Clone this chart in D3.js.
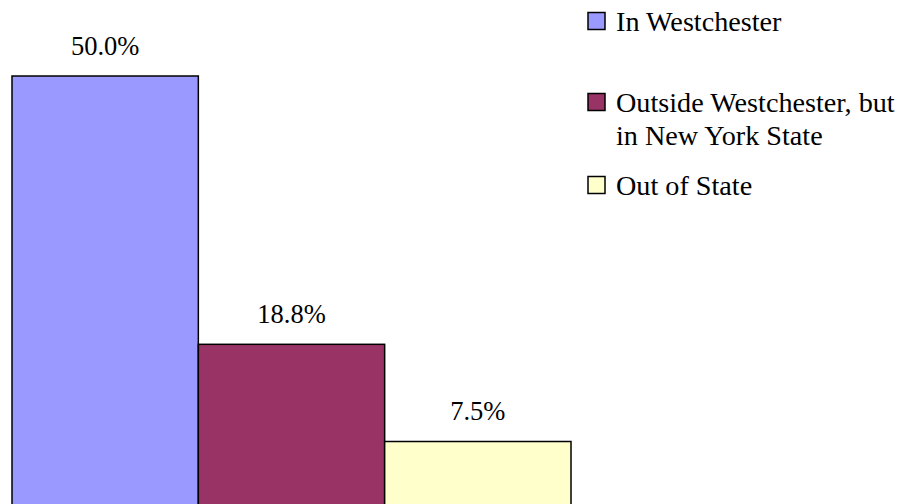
<!DOCTYPE html>
<html>
<head>
<meta charset="utf-8">
<script src="https://cdn.jsdelivr.net/npm/d3@7"></script>
<style>
  body { margin: 0; background: #fff; }
  svg { display: block; }
  text { font-family: "Liberation Serif", "Times New Roman", Times, serif; }
</style>
</head>
<body>
<script>
var svgWidth = 904;
var svgHeight = 504;

var categories = ["In Westchester", "Outside Westchester, but in New York State", "Out of State"];
var values = [50.0, 18.8, 7.5];
var colors = ["#9999FF", "#993366", "#FFFFCC"];
var legendLines = [["In Westchester"], ["Outside Westchester, but", "in New York State"], ["Out of State"]];

var svg = d3.select("body")
    .append("svg")
    .attr("width", svgWidth)
    .attr("height", svgHeight);

var x = d3.scaleBand()
    .domain(categories)
    .range([12, 571])
    .padding(0);

var y = d3.scaleLinear()
    .domain([0, 50])
    .range([506, 76]);

// bars (bottom runs off the picture)
svg.selectAll("rect.bar")
    .data(values)
    .enter()
    .append("rect")
    .attr("class", "bar")
    .attr("x", function (d, i) { return x(categories[i]); })
    .attr("y", function (d) { return y(d); })
    .attr("width", x.bandwidth())
    .attr("height", function (d) { return y(0) - y(d) + 10; })
    .attr("fill", function (d, i) { return colors[i]; })
    .attr("stroke", "#000")
    .attr("stroke-width", 1.5);

// value labels
svg.selectAll("text.val")
    .data(values)
    .enter()
    .append("text")
    .attr("class", "val")
    .text(function (d) { return d.toFixed(1) + "%"; })
    .attr("x", function (d, i) { return x(categories[i]) + x.bandwidth() / 2; })
    .attr("y", function (d) { return y(d) - 21.5; })
    .attr("text-anchor", "middle")
    .attr("font-size", "26.5px")
    .attr("fill", "#000");

// legend
var legendY = [31, 112, 195];
var legend = svg.selectAll("g.legend")
    .data(legendLines)
    .enter()
    .append("g")
    .attr("class", "legend")
    .attr("transform", function (d, i) { return "translate(0," + legendY[i] + ")"; });

legend.append("rect")
    .attr("x", 588)
    .attr("y", -18.5)
    .attr("width", 17)
    .attr("height", 17)
    .attr("fill", function (d, i) { return colors[i]; })
    .attr("stroke", "#000")
    .attr("stroke-width", 1.5);

legend.selectAll("text")
    .data(function (d) { return d; })
    .enter()
    .append("text")
    .text(function (d) { return d; })
    .attr("x", 616)
    .attr("y", function (d, j) { return j * 33; })
    .attr("font-size", "28.2px")
    .attr("fill", "#000");
</script>
</body>
</html>
